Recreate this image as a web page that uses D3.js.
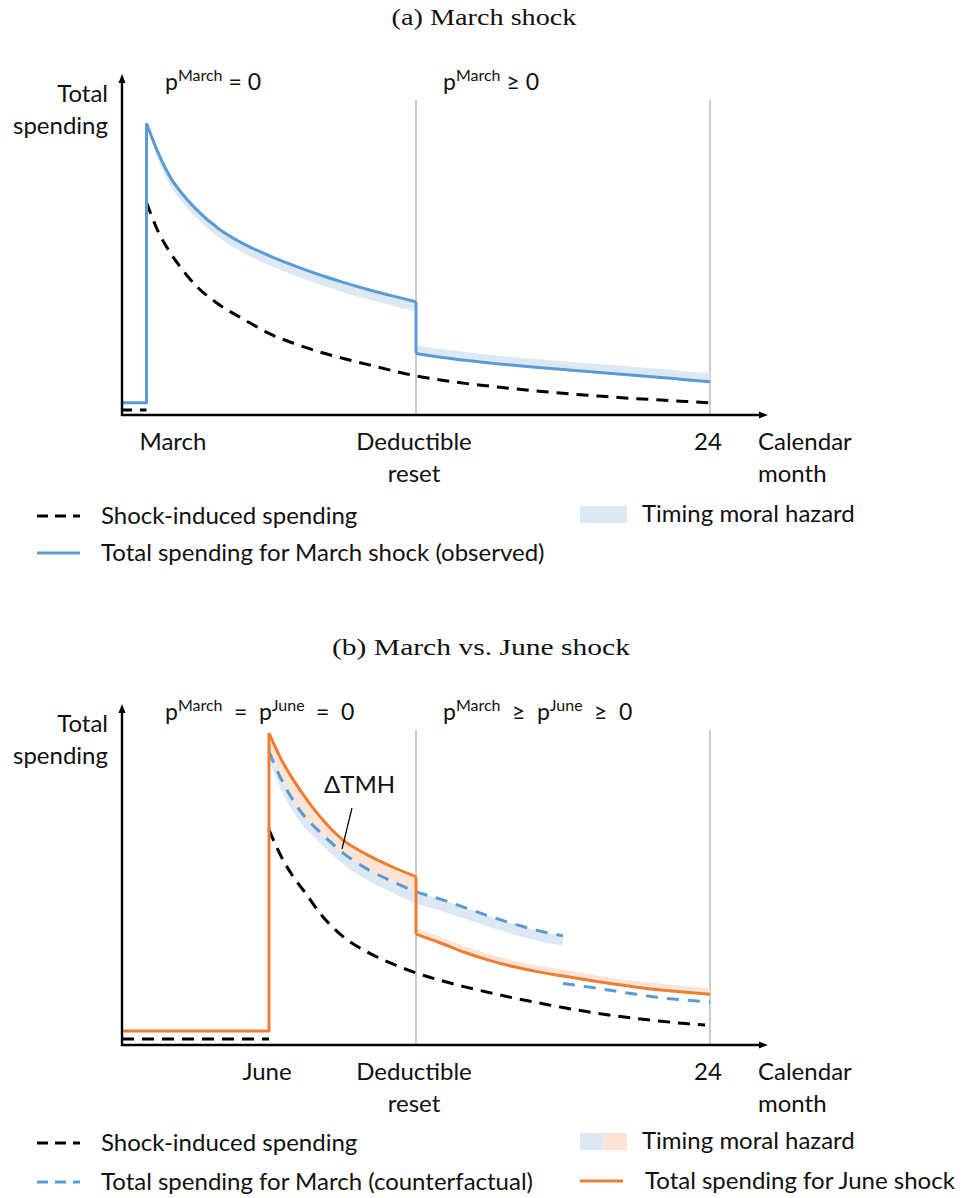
<!DOCTYPE html>
<html>
<head>
<meta charset="utf-8">
<script src="https://cdn.jsdelivr.net/npm/d3@7"></script>
<style>
  html, body { margin: 0; padding: 0; background: #fff; }
  svg { display: block; }
  .sans { font-family: Lato, "Open Sans", sans-serif; fill: #111; }
  .serif { font-family: "Liberation Serif", "DejaVu Serif", serif; fill: #111; }
</style>
</head>
<body>
<svg id="chart" width="968" height="1198"></svg>
<script>
// ---------- Panel (a): March shock ----------
const preA = [0, 1];                 // months before the shock
const preTotalA = [3.6, 3.6];        // total spending before shock
const preShockA = [1.5, 1.5];        // shock-induced spending before shock

const monthsA1 = [1, 1.5, 2, 2.5, 3, 4, 5, 6, 7, 8, 9, 10, 11, 12];
const totalA1  = [85.8, 76.7, 69.6, 64.7, 60.7, 54.5, 50.2, 46.9, 44.0, 41.4, 39.1, 37.0, 35.1, 33.3];
const tmhA1    = [85.8, 74.5, 67.2, 62.2, 58.2, 51.9, 47.5, 44.1, 41.1, 38.5, 36.2, 34.1, 32.2, 30.4];

const monthsA2 = [12, 13, 14, 15, 16, 17, 18, 19, 20, 21, 22, 23, 24];
const totalA2  = [18.1, 17.0, 16.1, 15.3, 14.6, 14.0, 13.4, 12.8, 12.2, 11.6, 11.0, 10.4, 9.8];
const tmhA2    = [20.5, 19.4, 18.5, 17.7, 17.0, 16.4, 15.8, 15.2, 14.7, 14.1, 13.5, 12.9, 12.4];

const monthsShockA = [1, 1.5, 2, 2.5, 3, 4, 5, 6, 7, 8, 9, 10, 11, 12, 13, 14, 15, 16, 17, 18, 19, 20, 21, 22, 23, 24];
const shockA       = [62.5, 53.6, 47.4, 42.4, 38.2, 32.3, 28.0, 24.0, 21.1, 18.7, 16.7, 14.9, 13.1, 11.5, 10.3, 9.3, 8.5, 7.7, 7.0, 6.4, 5.8, 5.3, 4.8, 4.4, 4.0, 3.6];

// ---------- Panel (b): March vs. June shock ----------
const preB = [0, 6];
const preTotalB = [4.1, 4.1];
const preShockB = [1.8, 1.8];

const monthsB1   = [6, 6.5, 7, 7.5, 8, 9, 10, 11, 12];
const juneB1     = [91.7, 84.0, 77.9, 72.6, 67.9, 60.4, 56.0, 52.5, 49.5];

const monthsMarB1 = [6, 6.5, 7, 7.5, 8, 9, 10, 11, 12, 13, 14, 15, 16, 17, 18];
const marchB1     = [86.3, 78.2, 71.8, 66.8, 63.2, 56.6, 51.8, 48.2, 45.1, 42.9, 40.4, 37.9, 35.6, 33.6, 32.1];
const tmhMarB1    = [84.0, 75.0, 68.5, 63.5, 60.0, 53.4, 48.5, 44.9, 41.6, 39.5, 37.1, 34.7, 32.5, 30.6, 29.1];

const monthsB2 = [12, 13, 14, 15, 16, 17, 18, 19, 20, 21, 22, 23, 24];
const juneB2   = [32.6, 30.0, 27.2, 24.9, 23.0, 21.5, 20.3, 19.1, 18.0, 17.0, 16.2, 15.5, 14.9];
const tmhJuneB2 = [34.4, 31.8, 29.0, 26.7, 24.8, 23.3, 22.1, 20.9, 19.8, 18.8, 18.0, 17.3, 16.7];

const monthsMarB2 = [18, 19, 20, 21, 22, 23, 24];
const marchB2     = [18.1, 17.1, 16.0, 14.9, 13.9, 13.2, 12.6];

const monthsShockB = [6, 6.5, 7, 7.5, 8, 9, 10, 11, 12, 13, 14, 15, 16, 17, 18, 19, 20, 21, 22, 23, 23.8];
const shockB       = [63.3, 55.4, 49.4, 44.6, 39.5, 32.0, 27.4, 24.0, 21.2, 19.0, 17.1, 15.4, 13.8, 12.4, 11.0, 9.8, 8.7, 7.8, 7.0, 6.3, 5.9];

// Axis annotations
const resetMonth = 12;
const endMonth = 24;
const ticksA = [{m: 1, lines: ["March"]}, {m: 12, lines: ["Deductible", "reset"]}, {m: 24, lines: ["24"]}];
const ticksB = [{m: 6, lines: ["June"]}, {m: 12, lines: ["Deductible", "reset"]}, {m: 24, lines: ["24"]}];

// ---------- Styling ----------
const BLUE = "#5b9bd5", ORANGE = "#ed7d31";
const BLUE_BAND = "#dde8f5", ORANGE_BAND = "#fbe3d5";
const GRID = "#bfbfbf";
const FS = 24;
const EN = "\u2002"; // wider spacing around relation signs

const svg = d3.select("#chart");
const x = d3.scaleLinear().domain([0, 24]).range([122, 710]);
const X_END = 768;

function zip(ms, vs) { return ms.map((m, i) => [m, vs[i]]); }
function zip3(ms, lo, hi) { return ms.map((m, i) => ({m, lo: lo[i], hi: hi[i]})); }

function panel(cfg) {
  const y = d3.scaleLinear().domain([0, 100]).range([cfg.y0, cfg.y0 - 340]);
  const g = svg.append("g");
  const lineC = d3.line().x(d => x(d[0])).y(d => y(d[1])).curve(d3.curveMonotoneX);
  const lineL = d3.line().x(d => x(d[0])).y(d => y(d[1]));
  const area = d3.area().x(d => x(d.m)).y0(d => y(d.lo)).y1(d => y(d.hi)).curve(d3.curveMonotoneX);

  // title
  g.append("text").attr("class", "serif").attr("x", cfg.titleX).attr("y", cfg.y0 - 390)
    .attr("text-anchor", "middle").attr("font-size", 23.5)
    .attr("textLength", cfg.titleW).attr("lengthAdjust", "spacingAndGlyphs").text(cfg.title);

  // vertical guides at reset and month 24
  [resetMonth, endMonth].forEach(m => {
    g.append("line").attr("x1", x(m)).attr("x2", x(m))
      .attr("y1", cfg.y0 - 315).attr("y2", cfg.y0)
      .attr("stroke", GRID).attr("stroke-width", 1.6);
  });

  // bands
  cfg.bands.forEach(b => {
    g.append("path").datum(b.data).attr("d", area).attr("fill", b.color);
  });

  // lines
  cfg.lines.forEach(l => {
    g.append("path").datum(l.data).attr("d", l.curve ? lineC : lineL)
      .attr("fill", "none").attr("stroke", l.color).attr("stroke-width", 3)
      .attr("stroke-dasharray", l.dash || null)
      .attr("stroke-linejoin", "round");
  });

  // axes with arrows
  const ax = g.append("g").attr("stroke", "#000").attr("stroke-width", 2.4);
  ax.append("line").attr("x1", x(0)).attr("x2", x(0)).attr("y1", cfg.y0 + 1).attr("y2", cfg.y0 - 334);
  ax.append("line").attr("x1", x(0) - 1).attr("x2", X_END - 6).attr("y1", cfg.y0).attr("y2", cfg.y0);
  g.append("path").attr("d", `M${x(0)},${cfg.y0 - 341} l-3.5,9 l7,0 z`).attr("fill", "#000");
  g.append("path").attr("d", `M${X_END},${cfg.y0} l-9,-3.5 l0,7 z`).attr("fill", "#000");

  // y label
  const yl = g.append("text").attr("class", "sans").attr("font-size", FS).attr("text-anchor", "end");
  yl.append("tspan").attr("x", 108).attr("y", cfg.y0 - 313).text("Total");
  yl.append("tspan").attr("x", 108).attr("y", cfg.y0 - 281).text("spending");

  // x tick labels; the first label of the top panel sits to the right of its tick
  cfg.ticks.forEach((t, k) => {
    const shifted = k === 0 && cfg.firstTickRight;
    const tx = g.append("text").attr("class", "sans").attr("font-size", FS)
      .attr("text-anchor", shifted ? "start" : "middle");
    t.lines.forEach((s, i) => tx.append("tspan")
      .attr("x", shifted ? x(t.m) - 7 : x(t.m) - 2)
      .attr("y", cfg.y0 + 35 + i * 32).text(s));
  });
  const cm = g.append("text").attr("class", "sans").attr("font-size", FS);
  cm.append("tspan").attr("x", 758).attr("y", cfg.y0 + 35).text("Calendar");
  cm.append("tspan").attr("x", 758).attr("y", cfg.y0 + 67).text("month");

  // regime labels with superscripts
  cfg.regimes.forEach(r => {
    const t = g.append("text").attr("class", "sans").attr("x", r.x).attr("y", cfg.y0 - 325).attr("font-size", 23);
    r.parts.forEach(p => {
      if (p.sup) t.append("tspan").attr("font-size", 16).attr("dy", -9).text(p.sup);
      else t.append("tspan").attr("dy", p.after ? 9 : 0).text(p.t);
    });
  });
}

// ---------- Draw panel (a) ----------
panel({
  y0: 415, title: "(a) March shock", titleX: 484, titleW: 185, firstTickRight: true,
  ticks: ticksA,
  regimes: [
    {x: 165, parts: [{t: "p"}, {sup: "March"}, {t: " = 0", after: true}]},
    {x: 443, parts: [{t: "p"}, {sup: "March"}, {t: " \u2265 0", after: true}]}
  ],
  bands: [
    {data: zip3(monthsA1, tmhA1, totalA1), color: BLUE_BAND},
    {data: zip3(monthsA2, totalA2, tmhA2), color: BLUE_BAND}
  ],
  lines: [
    {data: zip(preA, preShockA), color: "#000", dash: "10,8"},
    {data: zip(monthsShockA, shockA), color: "#000", dash: "12,8", curve: true},
    {data: [...zip(preA, preTotalA), [1, totalA1[0]]], color: BLUE},
    {data: zip(monthsA1, totalA1), color: BLUE, curve: true},
    {data: [[12, totalA1[totalA1.length - 1]], [12, totalA2[0]]], color: BLUE},
    {data: zip(monthsA2, totalA2), color: BLUE, curve: true}
  ]
});

// ---------- Draw panel (b) ----------
panel({
  y0: 1045, title: "(b) March vs. June shock", titleX: 481, titleW: 298,
  ticks: ticksB,
  regimes: [
    {x: 165, parts: [{t: "p"}, {sup: "March"}, {t: `${EN}=${EN}p`, after: true}, {sup: "June"}, {t: `${EN}=${EN}0`, after: true}]},
    {x: 443, parts: [{t: "p"}, {sup: "March"}, {t: `${EN}\u2265${EN}p`, after: true}, {sup: "June"}, {t: `${EN}\u2265${EN}0`, after: true}]}
  ],
  bands: [
    {data: zip3(monthsMarB1, tmhMarB1, marchB1), color: BLUE_BAND},
    {data: zip3(monthsB1, marchB1.slice(0, monthsB1.length), juneB1), color: ORANGE_BAND},
    {data: zip3(monthsB2, juneB2, tmhJuneB2), color: ORANGE_BAND}
  ],
  lines: [
    {data: zip(preB, preShockB), color: "#000", dash: "12,8"},
    {data: zip(monthsShockB, shockB), color: "#000", dash: "12,8", curve: true},
    {data: zip(monthsMarB1, marchB1), color: BLUE, dash: "12,9", curve: true},
    {data: zip(monthsMarB2, marchB2), color: BLUE, dash: "12,9", curve: true},
    {data: [...zip(preB, preTotalB), [6, juneB1[0]]], color: ORANGE},
    {data: zip(monthsB1, juneB1), color: ORANGE, curve: true},
    {data: [[12, juneB1[juneB1.length - 1]], [12, juneB2[0]]], color: ORANGE},
    {data: zip(monthsB2, juneB2), color: ORANGE, curve: true}
  ]
});

// ΔTMH annotation
svg.append("text").attr("class", "sans").attr("x", 324).attr("y", 793).attr("font-size", FS).text("\u0394TMH");
svg.append("line").attr("x1", 352).attr("y1", 808).attr("x2", 342).attr("y2", 849)
  .attr("stroke", "#000").attr("stroke-width", 1.2);

// ---------- Legends ----------
function legendLine(lx, ly, color, dash, label, tx) {
  svg.append("line").attr("x1", lx).attr("x2", lx + 43).attr("y1", ly).attr("y2", ly)
    .attr("stroke", color).attr("stroke-width", 3).attr("stroke-dasharray", dash || null);
  svg.append("text").attr("class", "sans").attr("x", tx).attr("y", ly + 8).attr("font-size", FS).text(label);
}
function legendBand(lx, ly, colors, label) {
  const w = 47 / colors.length;
  colors.forEach((c, i) => svg.append("rect").attr("x", lx + i * w).attr("y", ly - 8).attr("width", w).attr("height", 17).attr("fill", c));
  svg.append("text").attr("class", "sans").attr("x", 642).attr("y", ly + 8).attr("font-size", FS).text(label);
}

legendLine(37, 516, "#000", "11,7", "Shock-induced spending", 101);
legendLine(37, 553, BLUE, null, "Total spending for March shock (observed)", 101);
legendBand(580, 514, [BLUE_BAND], "Timing moral hazard");

legendLine(37, 1143, "#000", "11,7", "Shock-induced spending", 101);
legendLine(37, 1182, BLUE, "11,7", "Total spending for March (counterfactual)", 101);
legendBand(580, 1141, [BLUE_BAND, ORANGE_BAND], "Timing moral hazard");
legendLine(580, 1181, ORANGE, null, "Total spending for June shock", 645);
</script>
</body>
</html>
